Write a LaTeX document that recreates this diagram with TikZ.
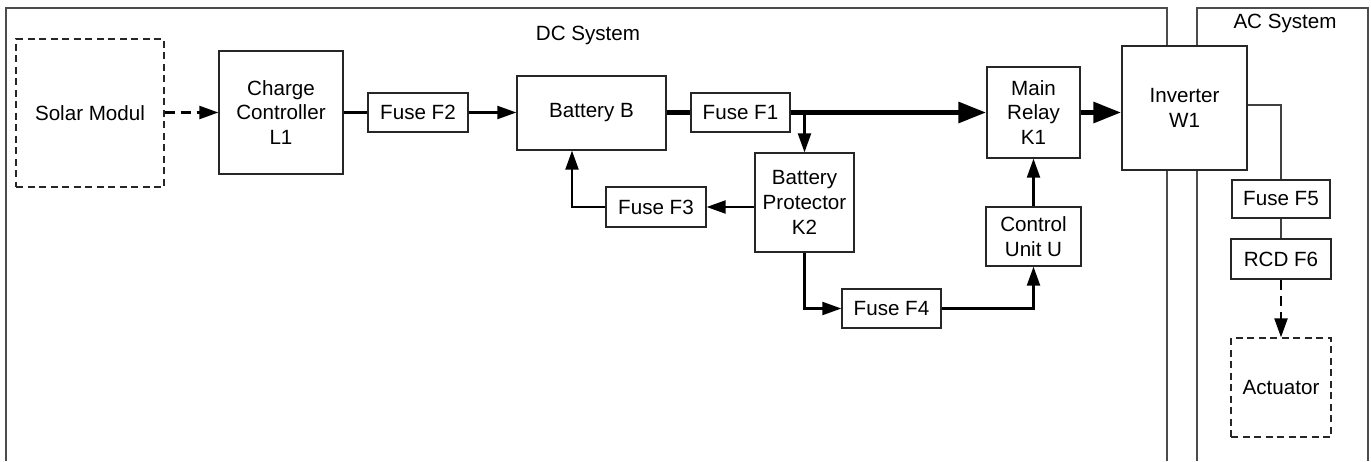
\documentclass[tikz,border=0pt]{standalone}
\usepackage{fontspec}
\setmainfont{Liberation Sans}
\usetikzlibrary{arrows.meta}
\begin{document}
\begin{tikzpicture}[x=1pt,y=-1pt,
  every node/.style={font=\fontsize{20.6}{24.8}\selectfont, align=center, inner sep=0pt},
  blk/.style={draw=black!85, line width=1.3pt, fill=white},
  dblk/.style={blk, dash pattern=on 7pt off 4.5pt},
  frame/.style={draw=black!70, line width=1.4pt},
  conn/.style={draw=black, line width=2.2pt},
  arr/.style={conn, -{Triangle[length=19pt,width=13pt]}},
  thinconn/.style={draw=black!75, line width=1.1pt},
  darr/.style={conn, dash pattern=on 10pt off 6pt, -{Triangle[length=19pt,width=13pt]}},
  heavy/.style={draw=black, line width=5.8pt},
  harr/.style={heavy, -{Triangle[length=28pt,width=20pt]}}
]
\useasboundingbox (0,0) rectangle (1371,461);
% system frames
\draw[frame] (6,461) -- (6,8) -- (1167,8) -- (1167,461);
\draw[frame] (1197,461) -- (1197,8) -- (1368,8) -- (1368,461);
\node (dclab) at (588,35) {DC System};
\node (aclab) at (1285,23) {AC System};
% blocks
\node[dblk, minimum width=148pt, minimum height=148pt] (solar) at (90,113) {Solar Modul};
\node[blk, minimum width=124pt, minimum height=123pt] (cc) at (281,112.5) {Charge\\Controller\\L1};
\node[blk, minimum width=100pt, minimum height=39pt] (f2) at (418,112.5) {Fuse F2};
\node[blk, minimum width=149pt, minimum height=74pt] (bat) at (591.5,113) {Battery B};
\node[blk, minimum width=99pt, minimum height=39pt] (f1) at (740.5,112.5) {Fuse F1};
\node[blk, minimum width=99pt, minimum height=99pt] (k2) at (804.5,202.5) {Battery\\Protector\\K2};
\node[blk, minimum width=100pt, minimum height=40pt] (f3) at (656,207) {Fuse F3};
\node[blk, minimum width=93pt, minimum height=91pt] (k1) at (1033.5,112.5) {Main\\Relay\\K1};
\node[blk, minimum width=95pt, minimum height=59pt] (cu) at (1033.5,236.5) {Control\\Unit U};
\node[blk, minimum width=99pt, minimum height=39pt] (f4) at (891.5,308.5) {Fuse F4};
\node[blk, minimum width=125pt, minimum height=124pt] (inv) at (1184.5,108) {Inverter\\W1};
\node[blk, minimum width=98pt, minimum height=38pt] (f5) at (1281,199) {Fuse F5};
\node[blk, minimum width=100pt, minimum height=40pt] (f6) at (1281,259) {RCD F6};
\node[dblk, minimum width=100pt, minimum height=99pt] (act) at (1281,387.5) {Actuator};
% connectors
\draw[darr] (solar.east |- cc.west) -- (cc.west);
\draw[conn] (cc.east) -- (f2.west);
\draw[arr] (f2.east) -- (f2.east -| bat.west);
\draw[heavy] (bat.east |- f1.west) -- (f1.west);
\draw[harr] (f1.east) -- (k1.west);
\draw[arr] (k2.north |- f1.east) -- (k2.north);
\draw[arr] (k2.west |- f3.east) -- (f3.east);
\draw[arr] (f3.west) -| ([xshift=-19.5pt]bat.south);
\draw[arr] (k2.south) |- (f4.west);
\draw[arr] (f4.east) -| (cu.south);
\draw[arr] (cu.north) -- (k1.south);
\draw[harr] (k1.east) -- (k1.east -| inv.west);
\draw[thinconn] ([yshift=3pt]inv.east) -| (f5.north);
\draw[thinconn] (f5.south) -- (f6.north);
\draw[darr] (f6.south) -- (act.north);
\end{tikzpicture}
\end{document}
